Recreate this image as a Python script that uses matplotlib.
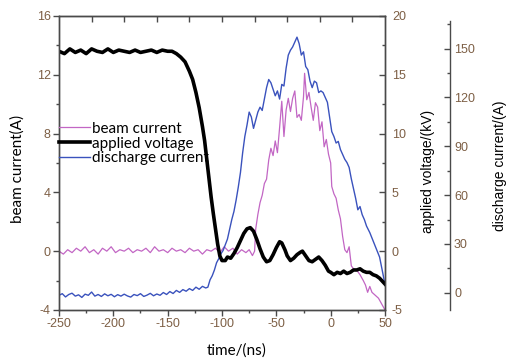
import numpy as np
import matplotlib.pyplot as plt
from matplotlib.ticker import MultipleLocator

plt.rcParams['axes.unicode_minus'] = False

# beam current (A), left axis
t_beam = [-250, -246, -242, -238, -234, -230, -226, -222, -218, -214, -210, -206, -202, -198,
          -194, -190, -186, -182, -178, -174, -170, -166, -162, -158, -154, -150, -146, -142,
          -138, -134, -130, -126, -122, -118, -114, -110, -106, -102, -98, -94, -90, -86, -82,
          -78, -75, -72, -70, -69, -67, -65, -63, -61, -59, -57, -55, -53, -51, -49, -47, -45,
          -43, -41, -39, -37, -35, -33, -31, -29, -27, -25, -24, -22, -20, -18, -16, -14, -12,
          -10, -8, -6, -4, -2, 0, 1, 3, 5, 7, 9, 11, 13, 15, 17, 19, 21, 24, 27, 30, 32, 34, 36,
          38, 41, 44, 47, 50]
beam = [0.0, -0.2, 0.1, -0.1, 0.2, 0.0, 0.3, -0.1, 0.1, -0.2, 0.2, 0.0, 0.3, -0.1,
        0.1, 0.0, 0.2, -0.1, 0.1, 0.0, 0.2, -0.1, 0.3, 0.0, 0.1, -0.1, 0.2, 0.0,
        0.1, -0.1, 0.2, 0.0, 0.1, -0.2, 0.1, 0.0, 0.2, -0.1, 0.3, 0.0, 0.2, -0.2, 0.1,
        -0.1, 0.1, -0.3, 0.0, 1.5, 2.5, 3.3, 3.8, 4.6, 4.9, 6.2, 7.0, 6.5, 7.5, 6.7, 8.4, 10.2,
        7.8, 9.6, 10.4, 9.5, 10.4, 10.9, 9.1, 9.3, 8.9, 10.5, 12.1, 10.3, 10.8, 9.8, 8.9, 10.1, 9.8,
        8.2, 8.8, 7.1, 7.6, 6.6, 6.0, 4.4, 3.9, 3.6, 2.8, 2.2, 1.0, 0.1, -0.1, 0.3, -1.0, -1.2,
        -1.3, -1.6, -2.0, -2.3, -2.8, -2.4, -2.8, -3.0, -3.2, -3.6, -4.0]

# applied voltage (kV), right axis
t_volt = [-250, -245, -240, -235, -230, -225, -220, -215, -210, -205, -200, -195, -190, -185,
          -180, -175, -170, -165, -160, -155, -150, -146, -142, -138, -134, -130, -127, -124,
          -121, -118, -116, -114, -112, -110, -108, -106, -104, -102, -100, -97, -95, -92, -89,
          -86, -83, -80, -77, -74, -71, -68, -65, -62, -59, -56, -53, -50, -47, -45, -42, -40,
          -37, -34, -31, -28, -26, -23, -20, -17, -14, -11, -8, -5, -2, 0, 3, 6, 9, 12, 15, 18,
          21, 24, 27, 30, 33, 36, 39, 42, 45, 48, 50]
volt = [17.0, 16.8, 17.2, 16.9, 17.1, 16.8, 17.2, 17.0, 16.9, 17.2, 16.9, 17.1, 17.0, 16.9,
        17.1, 16.9, 17.0, 17.1, 16.9, 17.1, 17.0, 17.0, 16.8, 16.5, 16.1, 15.3, 14.6, 13.5,
        12.2, 10.6, 9.4, 7.8, 6.2, 4.6, 3.2, 1.9, 0.6, -0.4, -0.8, -0.8, -0.5, -0.6, -0.2,
        0.3, 0.9, 1.5, 1.9, 2.0, 1.7, 1.0, 0.2, -0.5, -0.9, -0.8, -0.3, 0.3, 0.8, 0.7, 0.1, -0.4,
        -0.8, -0.6, -0.3, -0.1, 0.0, -0.4, -0.8, -0.9, -0.7, -0.5, -0.8, -1.2, -1.7, -1.8, -2.0,
        -1.8, -1.9, -1.7, -1.9, -1.8, -1.6, -1.6, -1.5, -1.7, -1.8, -1.8, -2.0, -2.1, -2.3, -2.6, -2.8]

# discharge current (A), third axis
t_dis = [-250, -247, -244, -241, -238, -235, -232, -229, -226, -223, -220, -217, -214, -211,
         -208, -205, -202, -199, -196, -193, -190, -187, -184, -181, -178, -175, -172, -169,
         -166, -163, -160, -157, -154, -151, -148, -145, -142, -139, -136, -133, -130, -127,
         -124, -121, -118, -115, -113, -111, -109, -107, -105, -103, -101, -99, -97, -95, -93,
         -91, -89, -87, -85, -83, -81, -79, -77, -75, -73, -71, -69, -67, -65, -63, -61, -59,
         -57, -55, -53, -51, -49, -47, -45, -43, -41, -39, -37, -35, -33, -31, -29, -27, -25,
         -23, -21, -19, -17, -15, -13, -11, -9, -7, -5, -3, -1, 1, 3, 5, 7, 9, 11, 13, 15, 17,
         19, 21, 23, 25, 27, 29, 31, 33, 36, 39, 42, 45, 48, 50]
dis = [-1.5, -0.5, -2.5, -1.0, -0.2, -2.0, -1.2, -2.8, -0.8, -1.5, 0.5, -2.0, -1.0, -2.2,
       -0.6, -1.8, -0.9, -2.4, -1.1, -2.0, -0.8, -1.9, -2.6, -1.0, -1.7, -0.5, -2.2, -1.4,
       -0.3, -1.8, -0.7, -1.5, 0.2, -1.0, 0.8, -0.4, 1.5, 0.3, 2.0, 1.0, 2.6, 1.5,
       3.5, 2.2, 4.0, 3.0, 3.5, 8.0, 10.5, 14.0, 18.5, 21.0, 24.0, 26.0, 29.5, 33.0, 39.0,
       45.0, 50.0, 57.0, 65.0, 74.0, 86.0, 96.0, 103.0, 111.0, 108.0, 101.0, 106.0, 111.0, 114.0, 112.0, 119.0, 126.0,
       131.0, 129.0, 125.0, 121.0, 124.0, 119.0, 128.0, 127.0, 138.0, 146.0, 149.0, 151.0, 154.0, 157.0, 153.0, 146.0, 148.0,
       139.0, 137.0, 130.0, 126.0, 130.0, 129.0, 123.0, 124.0, 123.0, 120.0, 117.0, 108.0, 99.0, 96.0, 92.0, 93.0, 88.0, 85.0, 82.0, 80.0, 77.0,
       70.0, 64.0, 58.0, 51.0, 53.0, 48.0, 45.0, 41.0, 37.0, 32.0, 27.0, 22.0, 12.0, 5.0]

x_ticks = [-250, -200, -150, -100, -50, 0, 50]
top_ticks = [-220, -190, -160, -130, -100, -70, -40, -10, 20]

tick_col = '#7d5f45'
spine_col = '#4a4a4a'

fig = plt.figure(figsize=(5.13, 3.6), dpi=100)
ax = fig.add_axes([0.115, 0.139, 0.6355, 0.8166])
ax2 = ax.twinx()
ax3 = ax.twinx()
ax3.set_zorder(1)
ax2.set_zorder(2)
ax2.patch.set_visible(False)
ax3.patch.set_visible(False)

l1, = ax.plot(t_beam, beam, color='#c266c4', lw=0.9)
l2, = ax2.plot(t_volt, volt, color='black', lw=2.6)
l3, = ax3.plot(t_dis, dis, color='#3a52bd', lw=1.0)

ax.set_xlim(-250, 50)
ax.set_ylim(-4, 16)
ax2.set_ylim(-5, 20)
ax3.set_ylim(-10.5, 170)

ax.set_xticks(x_ticks)
ax.xaxis.set_minor_locator(MultipleLocator(25))
ax.set_yticks([-4, 0, 4, 8, 12, 16])
ax.yaxis.set_minor_locator(MultipleLocator(2))
ax2.set_yticks([-5, 0, 5, 10, 15, 20])
ax2.yaxis.set_minor_locator(MultipleLocator(2.5))
ax3.set_yticks([0, 30, 60, 90, 120, 150])
ax3.set_yticks([15, 45, 75, 105, 135, 165], minor=True)

for a in (ax, ax2, ax3):
    for s in a.spines.values():
        s.set_color(spine_col)
        s.set_linewidth(1.0)

ax.tick_params(which='major', direction='out', length=4, width=1, color=spine_col,
               labelsize=9, labelcolor=tick_col, pad=2)
ax.tick_params(which='minor', direction='out', length=2.5, width=1, color=spine_col)
ax2.tick_params(which='major', direction='in', length=4, width=1, color=spine_col,
                labelsize=9, labelcolor=tick_col, pad=5)
ax2.tick_params(which='minor', direction='in', length=2.5, width=1, color=spine_col)

ax3.spines['right'].set_position(('axes', 1.199))
ax3.spines['right'].set_bounds(-10.5, 167)
for side in ('top', 'bottom', 'left'):
    ax3.spines[side].set_visible(False)
ax3.tick_params(which='major', direction='in', length=4, width=1, color=spine_col,
                labelsize=9, labelcolor=tick_col, pad=3)
ax3.tick_params(which='minor', direction='in', length=2.5, width=1, color=spine_col)

for lab in ax.get_xticklabels() + ax.get_yticklabels() + ax2.get_yticklabels() + ax3.get_yticklabels():
    lab.set_family('Liberation Sans')

top = ax.secondary_xaxis('top')
top.set_xticks(top_ticks, labels=[])
top.tick_params(direction='in', length=4, width=1, color=spine_col)
top.spines['top'].set_color(spine_col)

ax.set_xlabel('time/(ns)', family='Lato', fontsize=11)
ax.xaxis.set_label_coords(0.545, -0.115)
ax.set_ylabel('beam current(A)', family='Lato', fontsize=11)
ax.yaxis.set_label_coords(-0.105, 0.48)
ax2.set_ylabel('applied voltage/(kV)', family='Liberation Sans', fontsize=10)
ax2.yaxis.set_label_coords(1.11, 0.47)
ax3.set_ylabel('discharge current/(A)', family='Liberation Sans', fontsize=10)
ax3.yaxis.set_label_coords(1.33, 0.49)

leg = ax2.legend([l1, l2, l3], ['beam current', 'applied voltage', 'discharge current'],
                 loc='upper left', bbox_to_anchor=(0.0, 0.64), frameon=False,
                 borderpad=0, borderaxespad=0, handlelength=2.0, handletextpad=0.15,
                 labelspacing=0.05, prop={'family': 'Lato', 'size': 11})

fig.savefig('out.png', dpi=100)
